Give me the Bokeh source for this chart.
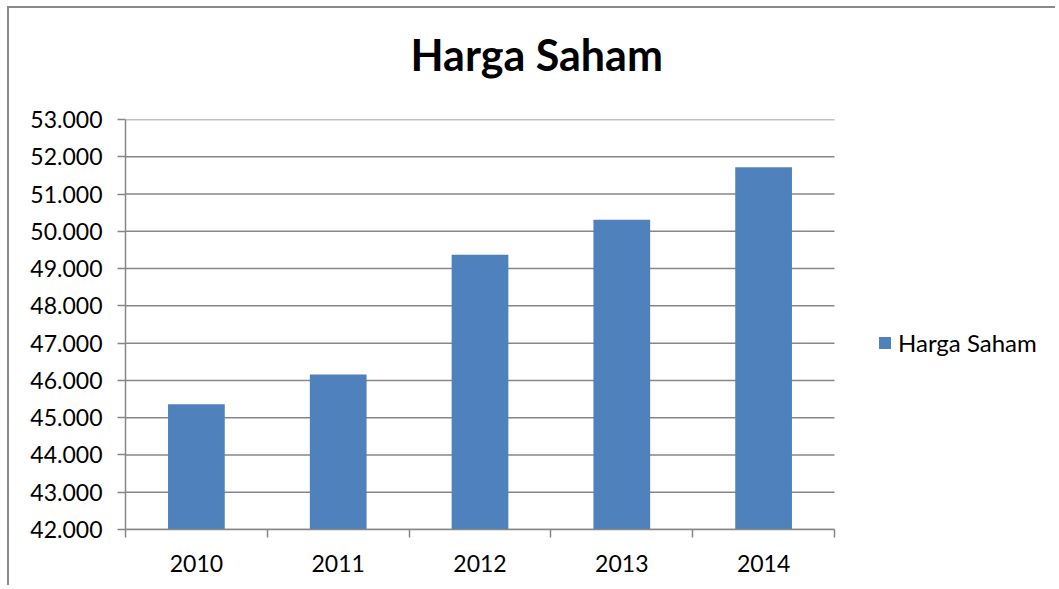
from bokeh.plotting import figure
from bokeh.models import FixedTicker, Legend, LegendItem, ColumnDataSource, Title, LinearAxis
from bokeh.embed import file_html
from bokeh.resources import INLINE

# ---- data ----
years = ["2010", "2011", "2012", "2013", "2014"]
harga_saham = [45360, 46160, 49370, 50310, 51720]
y_ticks = [42000, 43000, 44000, 45000, 46000, 47000, 48000, 49000, 50000, 51000, 52000, 53000]
series_name = "Harga Saham"
chart_title = "Harga Saham"

FONT = "Lato"
GRID = "#878787"
BAR = "#4F81BD"

# ---- layout (pixels) ----
FIG_W, FIG_H = 1048, 579
LEFT, TOP, BOTTOM = 116, 111, 58
AREA_W = 709                      # width of the value area (plot region with gridlines)
FRAME_W = FIG_W - LEFT            # frame runs to the right edge, legend lives inside it

n = len(years)
centers = [i + 0.5 for i in range(n)]
src = ColumnDataSource(dict(x=centers, top=harga_saham, year=years))
grid_src = ColumnDataSource(dict(x0=[0] * len(y_ticks), x1=[n] * len(y_ticks),
                                 y=y_ticks))

p = figure(width=FIG_W, height=FIG_H, x_range=(0, n * FRAME_W / AREA_W),
           y_range=(y_ticks[0], y_ticks[-1]),
           output_backend="svg", toolbar_location=None,
           min_border_left=LEFT, min_border_right=0, min_border_top=TOP, min_border_bottom=BOTTOM,
           styles={"margin-top": "6px", "margin-left": "7px",
                   "border-top": "2px solid #898989", "border-left": "2px solid #898989"})
p.outline_line_color = None
p.background_fill_color = "white"
p.border_fill_color = "white"

xa = p.below[0]
ya = p.left[0]

# horizontal gridlines limited to the value area
p.segment(x0="x0", x1="x1", y0="y", y1="y", source=grid_src,
          line_color=GRID, line_width=1.5)

r = p.vbar(x="x", top="top", bottom=y_ticks[0], width=0.4, source=src,
           fill_color=BAR, line_color=None)

# invisible spacer between title and plot area (one hidden tick gives it a height)
spacer = LinearAxis(ticker=FixedTicker(ticks=[0], minor_ticks=[]), major_tick_out=22,
                    major_tick_in=0, minor_tick_out=0, axis_line_color=None,
                    major_tick_line_color=None, minor_tick_line_color=None,
                    major_label_overrides={0: ""}, major_label_text_alpha=0,
                    major_label_text_font_size="1px", major_label_standoff=0)
p.add_layout(spacer, "above")

# title
p.title = Title(text=chart_title, align="left", text_font=FONT, text_font_size="43px",
                text_font_style="bold", text_color="black", standoff=35, offset=285)

# x axis
xa.bounds = (0, n)
xa.ticker = FixedTicker(ticks=centers, minor_ticks=list(range(n + 1)))
xa.major_label_overrides = {c: y for c, y in zip(centers, years)}
xa.major_tick_out = 0
xa.major_tick_in = 0
xa.minor_tick_out = 8
xa.minor_tick_in = 0
xa.minor_tick_line_color = GRID
xa.minor_tick_line_width = 1.5
xa.axis_line_color = GRID
xa.axis_line_width = 1.5
xa.major_label_text_font = FONT
xa.major_label_text_font_size = "23px"
xa.major_label_text_color = "black"
xa.major_label_standoff = 17
p.xgrid.grid_line_color = None

# y axis
ya.ticker = FixedTicker(ticks=y_ticks, minor_ticks=[])
ya.major_label_overrides = {v: f"{v:,}".replace(",", ".") for v in y_ticks}
ya.major_tick_out = 8
ya.major_tick_in = 0
ya.major_tick_line_color = GRID
ya.major_tick_line_width = 1.5
ya.axis_line_color = GRID
ya.axis_line_width = 1.5
ya.major_label_text_font = FONT
ya.major_label_text_font_size = "23px"
ya.major_label_text_color = "black"
ya.major_label_standoff = 15
p.ygrid.grid_line_color = None

legend = Legend(items=[LegendItem(label=series_name, renderers=[r])],
                location=(752, 172), glyph_width=15, glyph_height=15,
                label_standoff=6, padding=0, margin=0, border_line_color=None,
                background_fill_alpha=0, label_text_font=FONT,
                label_text_font_size="24px", label_text_color="black")
p.add_layout(legend)

open("out.html", "w").write(file_html(p, INLINE))
